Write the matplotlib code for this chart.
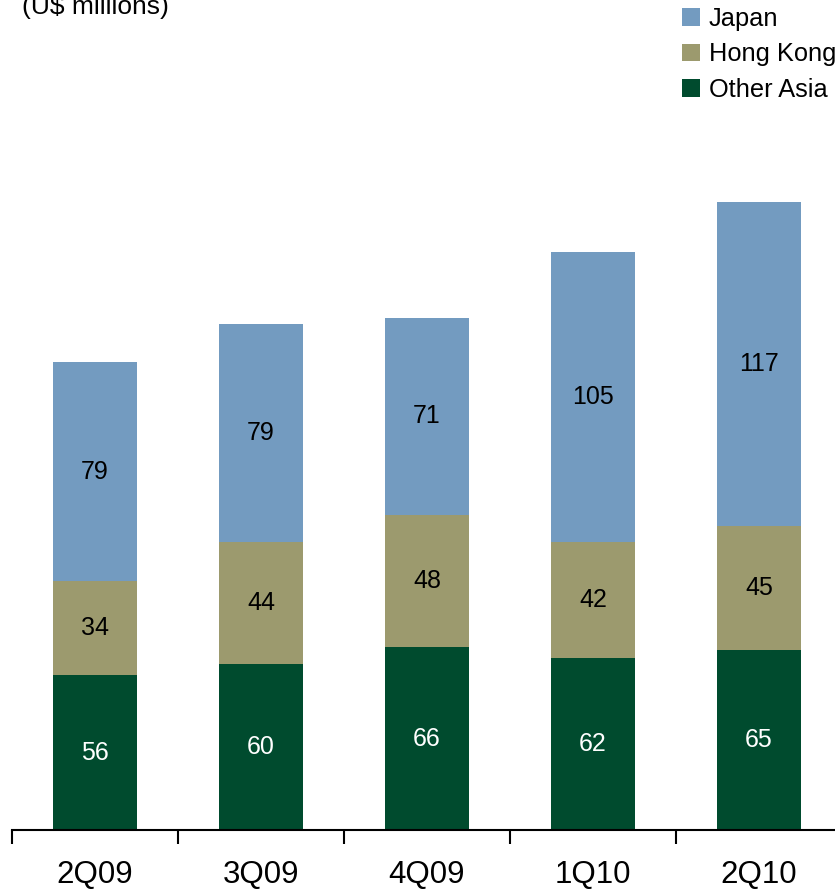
import matplotlib.pyplot as plt
import numpy as np

plt.rcParams['font.family'] = ['Liberation Sans', 'DejaVu Sans']

quarters = ['2Q09', '3Q09', '4Q09', '1Q10', '2Q10']
other_asia = [56, 60, 66, 62, 65]
hong_kong = [34, 44, 48, 42, 45]
japan = [79, 79, 71, 105, 117]

series = [
    ('Other Asia', other_asia, '#004B2E', 'white'),
    ('Hong Kong', hong_kong, '#9C9A6E', 'black'),
    ('Japan', japan, '#739BC0', 'black'),
]

fig = plt.figure(figsize=(8.35, 8.89), dpi=100)
ax = fig.add_axes([12 / 835, 59 / 889, 823 / 835, 830 / 889])

x = np.arange(len(quarters))
bottom = np.zeros(len(quarters))
handles = {}
for name, vals, color, txt in series:
    vals = np.array(vals)
    bars = ax.bar(x, vals, 0.51, bottom=bottom, color=color, label=name)
    handles[name] = bars
    for xi, b, v in zip(x, bottom, vals):
        ax.text(xi, b + v / 2, str(v), ha='center', va='center',
                fontsize=18, color=txt)
    bottom += vals

ax.set_xlim(-0.5, 4.458)
ax.set_ylim(0, 300)
for s in ['top', 'right', 'left']:
    ax.spines[s].set_visible(False)
ax.spines['bottom'].set_linewidth(1.5)
ax.set_yticks([])
ax.set_xticks(np.arange(-0.5, 4.5, 1.0))
ax.set_xticklabels([])
ax.tick_params(axis='x', length=10, width=1.5, direction='out')
for xi, q in zip(x, quarters):
    ax.text(xi, -0.054, q, transform=ax.get_xaxis_transform(),
            ha='center', va='center', fontsize=22.5)

# heading sits partly above the top edge
fig.text(22 / 835, 1 - 7 / 889, '(U$ millions)', fontsize=19,
         ha='left', va='center')

leg = fig.legend([handles['Japan'], handles['Hong Kong'], handles['Other Asia']],
                 ['Japan', 'Hong Kong', 'Other Asia'],
                 loc='upper left', bbox_to_anchor=(682 / 835, 1 - 7 / 889),
                 frameon=False, fontsize=18.3, handlelength=0.7, handleheight=0.7,
                 handletextpad=0.35, labelspacing=0.45, borderaxespad=0,
                 borderpad=0)

fig.savefig('out.png', dpi=100)
